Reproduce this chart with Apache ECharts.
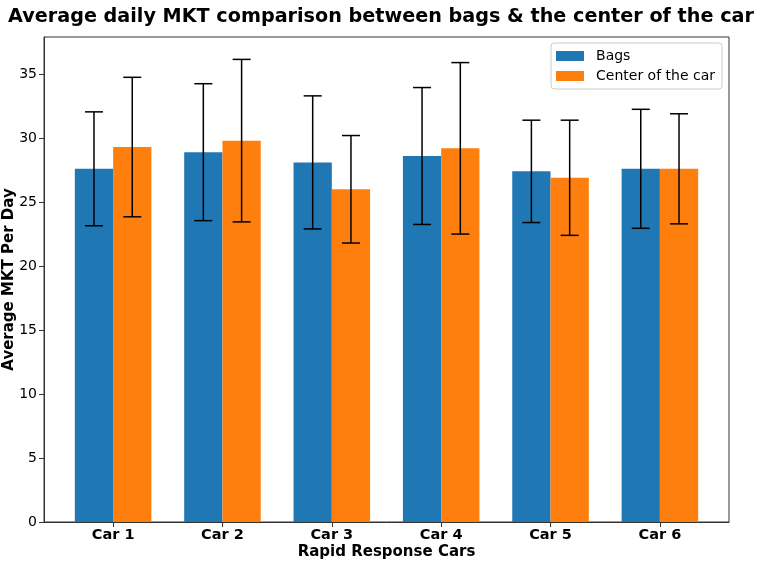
<!DOCTYPE html>
<html>
<head>
<meta charset="utf-8">
<script src="https://cdn.jsdelivr.net/npm/echarts@6/dist/echarts.min.js"></script>
<style>
  html, body { margin: 0; padding: 0; background: #fff; }
  #chart { width: 762px; height: 563px; }
</style>
</head>
<body>
<div id="chart"></div>
<script>
const cars = ['Car 1', 'Car 2', 'Car 3', 'Car 4', 'Car 5', 'Car 6']
const bags = [27.6, 28.9, 28.1, 28.6, 27.4, 27.6]
const bagsErr = [4.45, 5.35, 5.2, 5.35, 4.0, 4.65]
const center = [29.3, 29.8, 26.0, 29.2, 26.9, 27.6]
const centerErr = [5.45, 6.35, 4.2, 6.7, 4.5, 4.3]
const yTicks = [0, 5, 10, 15, 20, 25, 30, 35]

const barW = 0.35
const font = 'DejaVu Sans'

// bars drawn through the value axes, offset left/right of the car index
function barRenderer (offset) {
    return function (params, api) {
        const x = api.value(0) + offset
        const p0 = api.coord([x - barW / 2, api.value(1)])
        const p1 = api.coord([x + barW / 2, 0])
        return {
            type: 'rect',
            shape: { x: p0[0], y: p0[1], width: p1[0] - p0[0], height: p1[1] - p0[1] },
            style: { fill: api.visual('color') }
        }
    }
}

function errRenderer (offset) {
    return function (params, api) {
        const x = api.value(0) + offset
        const v = api.value(1), e = api.value(2)
        const hi = api.coord([x, v + e])
        const lo = api.coord([x, v - e])
        const cap = 9
        const st = { stroke: '#000', lineWidth: 1.5 }
        return {
            type: 'group',
            children: [
                { type: 'line', shape: { x1: hi[0], y1: hi[1], x2: lo[0], y2: lo[1] }, style: st },
                { type: 'line', shape: { x1: hi[0] - cap, y1: hi[1], x2: hi[0] + cap, y2: hi[1] }, style: st },
                { type: 'line', shape: { x1: lo[0] - cap, y1: lo[1], x2: lo[0] + cap, y2: lo[1] }, style: st }
            ]
        }
    }
}

const bagsData = bags.map((v, i) => [i, v, bagsErr[i]])
const centerData = center.map((v, i) => [i, v, centerErr[i]])

const myChart = echarts.init(document.getElementById('chart'))
myChart.setOption({
    animation: false,
    title: {
        text: 'Average daily MKT comparison between bags & the center of the car',
        left: 'center',
        top: 3,
        textStyle: { fontFamily: font, fontSize: 19.2, fontWeight: 'bold', color: '#000' }
    },
    legend: {
        right: 40,
        top: 43,
        orient: 'vertical',
        icon: 'rect',
        itemWidth: 28,
        itemHeight: 10,
        itemGap: 6,
        padding: [6, 7, 6, 5],
        borderColor: '#ccc',
        borderWidth: 1,
        borderRadius: 3,
        textStyle: { fontFamily: font, fontSize: 14, color: '#000', padding: [0, 0, 0, 7] },
        data: ['Bags', 'Center of the car']
    },
    grid: {
        left: 44,
        right: 33,
        top: 37,
        bottom: 41,
        outerBoundsMode: 'none',
        show: true,
        borderColor: '#333',
        borderWidth: 1
    },
    xAxis: {
        type: 'value',
        min: -0.632,
        max: 5.632,
        splitLine: { show: false },
        axisLine: { show: true, onZero: false, lineStyle: { color: '#333' } },
        axisTick: { show: true, length: 5, lineStyle: { color: '#333' }, customValues: [0, 1, 2, 3, 4, 5] },
        axisLabel: {
            customValues: [0, 1, 2, 3, 4, 5],
            formatter: v => cars[Math.round(v)],
            fontFamily: font, fontSize: 14.5, fontWeight: 'bold', color: '#000', margin: 6
        },
        name: 'Rapid Response Cars',
        nameLocation: 'middle',
        nameGap: 23,
        nameMoveOverlap: false,
        nameTextStyle: { fontFamily: font, fontSize: 15, fontWeight: 'bold', color: '#000' }
    },
    yAxis: {
        type: 'value',
        min: 0,
        max: 37.9,
        splitLine: { show: false },
        axisLine: { show: true, onZero: false, lineStyle: { color: '#333' } },
        axisTick: { show: true, length: 5, lineStyle: { color: '#333' }, customValues: yTicks },
        axisLabel: {
            customValues: yTicks,
            fontFamily: font, fontSize: 14, color: '#000', margin: 7
        },
        name: 'Average MKT Per Day',
        nameLocation: 'middle',
        nameGap: 27,
        nameRotate: 90,
        nameMoveOverlap: false,
        nameTextStyle: { fontFamily: font, fontSize: 15, fontWeight: 'bold', color: '#000' }
    },
    series: [
        {
            name: 'Bags', type: 'custom', data: bagsData,
            itemStyle: { color: '#1f77b4' },
            renderItem: barRenderer(-barW / 2),
            encode: { x: 0, y: 1 }, z: 2
        },
        {
            name: 'Center of the car', type: 'custom', data: centerData,
            itemStyle: { color: '#ff7f0e' },
            renderItem: barRenderer(barW / 2),
            encode: { x: 0, y: 1 }, z: 2
        },
        {
            type: 'custom', data: bagsData, renderItem: errRenderer(-barW / 2),
            encode: { x: 0, y: 1 }, z: 3, silent: true
        },
        {
            type: 'custom', data: centerData, renderItem: errRenderer(barW / 2),
            encode: { x: 0, y: 1 }, z: 3, silent: true
        }
    ]
})
</script>
</body>
</html>
